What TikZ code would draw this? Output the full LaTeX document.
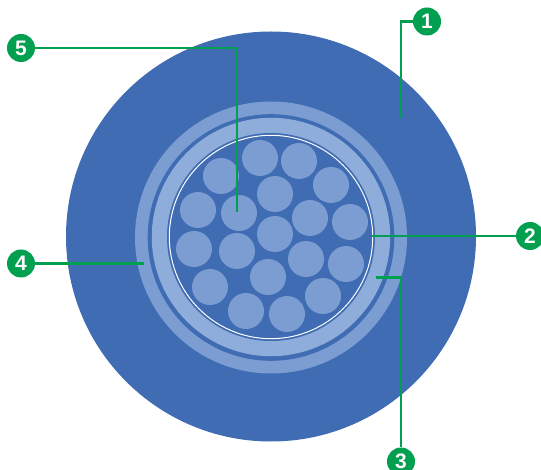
\documentclass[tikz,border=0pt]{standalone}
\usepackage{fontspec}
\setmainfont{Liberation Sans}
\definecolor{jacket}{HTML}{3F6CB3}
\definecolor{strand}{HTML}{7B9DD1}
\definecolor{armour}{HTML}{8FADDA}
\definecolor{leader}{HTML}{00A050}
\tikzset{
  badge/.style={circle,fill=leader,text=white,inner sep=0pt,minimum size=28pt,font=\bfseries\fontsize{21}{22}\selectfont},
  callout/.style={leader,line width=2.6pt}
}

\begin{document}
\begin{tikzpicture}[x=1pt,y=-1pt]
  \useasboundingbox (0,0) rectangle (541,470);

  % Cable cross-section, outside to inside.
  \fill[jacket] (271,236.5) circle[radius=205];
  \fill[strand] (271,237.5) circle[radius=136];
  \fill[jacket] (271,237.5) circle[radius=123.3];
  \fill[armour] (271,237) circle[radius=119.2];
  \fill[jacket] (271,237) circle[radius=104];
  \draw[white,line width=1pt] (271,237) circle[radius=101.7];

  % Strands.
  \foreach \x/\y in {
    260/158, 299/161, 221/176, 331/185, 275/194,
    198/210, 239/213, 310/218, 350/222, 275/234,
    194/249, 237/251, 306/259, 346/264, 268/277,
    210/287, 323/296, 246/311, 287/314
  } {
    \fill[strand] (\x,\y) circle[radius=18];
  }

  % Numbered callouts.
  \node[badge] (one) at (427,21.5) {1};
  \node[badge] (two) at (530,236) {2};
  \node[badge] (three) at (401,461.5) {3};
  \node[badge] (four) at (21,263.5) {4};
  \node[badge] (five) at (21,48) {5};

  \coordinate (onefree) at (401,118);
  \coordinate (twofree) at (372,236);
  \coordinate (threefree) at (376,277.5);
  \coordinate (fourfree) at (144,263.5);
  \coordinate (fivefree) at (237,212);

  \draw[callout] (one) -| (onefree);
  \draw[callout] (two) -- (twofree);
  \draw[callout] (three) |- (threefree);
  \draw[callout] (four) -- (fourfree);
  \draw[callout] (five) -| (fivefree);
\end{tikzpicture}
\end{document}
